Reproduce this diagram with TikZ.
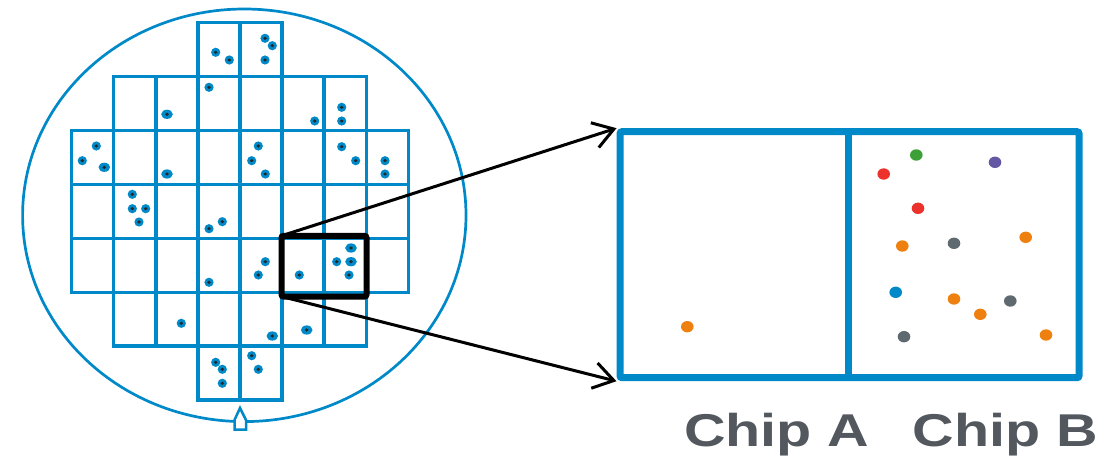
\documentclass[tikz,border=0pt]{standalone}
\usepackage{fontspec}
\setmainfont{Liberation Sans}
\usetikzlibrary{arrows.meta}
\definecolor{waferblue}{RGB}{0,137,201}
\definecolor{labelgray}{RGB}{83,88,95}
\definecolor{dorange}{RGB}{238,128,16}
\definecolor{dgreen}{RGB}{60,160,55}
\definecolor{dpurple}{RGB}{100,88,165}
\definecolor{dred}{RGB}{235,50,45}
\definecolor{dgray}{RGB}{95,105,112}
\begin{document}
\begin{tikzpicture}[x=1pt,y=-1pt,
  waferedge/.style={draw=waferblue,line width=2.7pt},
  cell/.style={draw=waferblue,line width=3.4pt},
  notch/.style={draw=waferblue,fill=white,line width=2.5pt},
  zoomframe/.style={draw=black,line width=6pt,rounded corners=2pt,inner sep=0pt},
  chipframe/.style={draw=waferblue,line width=7pt,rounded corners=2pt,inner sep=0pt},
  link/.style={draw=black,line width=3pt,-{Straight Barb[length=20pt,width=26pt]}},
  chiplabel/.style={anchor=base,text=labelgray,font=\bfseries\fontsize{46}{50}\selectfont}
]
\useasboundingbox (0,0) rectangle (1115,462);

% wafer outline
\draw[waferedge] (244.3,215.3) ellipse [x radius=221.7, y radius=206.3];

% die grid, row by row (first and last column index per row)
\foreach \j/\a/\b in {0/3/4,1/1/6,2/0/7,3/0/7,4/0/7,5/1/6,6/3/4}
  \foreach \i in {\a,...,\b}
    \draw[cell] ({71.7+42.08*\i},{22.7+53.9*\j}) rectangle ++(42.08,53.9);

% orientation notch
\draw[notch] (234.5,429.5) -- (246,429.5) -- (246,420) -- (240,408) -- (234.5,420) -- cycle;

% defects on the wafer
\foreach \x/\y/\r in {
  215.7/52.3/4.6, 229.3/60/4.6, 265/38.3/4.6, 272.3/45.7/4.6, 265/60/4.6,
  209/87.3/4.6, 167/114.3/5.8, 314.7/121/4.6, 341.7/107.3/4.6, 341.7/121/4.6,
  96.3/146/4.6, 82.3/160.7/4.6, 104.3/167.3/5.8, 167/174/5.8,
  258.3/146/4.6, 251.7/160.7/4.6, 265.3/174/4.6,
  341.7/146.7/4.6, 355.7/160.7/4.6, 385/160.7/4.6, 385/174/4.6,
  132.3/194.3/4.6, 132.3/208.7/4.6, 145.7/208.7/4.6, 139/222/4.6,
  222.3/221.7/4.6, 209/228.7/4.6,
  265.3/261.7/4.6, 258.3/275/4.6, 209/282.3/4.6, 299.3/275/4.6,
  351/248/5.8, 336.7/261.7/4.6, 351/261.7/5.8, 349/275/4.6,
  181.3/323.3/4.6, 272.3/336/5.8, 306.7/330/5.8,
  215.7/362.3/4.6, 222.3/369.3/4.6, 222.3/383.3/4.6, 251.7/355.7/4.6, 258.3/369.3/4.6}
{
  \fill[waferblue] (\x,\y) ellipse [x radius=\r, y radius=4.6];
  \fill[black!85] (\x,\y) ellipse [x radius=1.9, y radius=1.7];
}

% magnified pair of dies
\node[chipframe,minimum width=459pt,minimum height=246pt] (chips) at (849.5,254.7) {};
\draw[waferblue,line width=7pt] (848.3,131.7) -- (848.3,377.7);

% selection frame and zoom lines
\draw[link] (281.5,235.8) -- (chips.north west);
\draw[link] (281.5,296.5) -- (chips.south west);
\node[zoomframe,minimum width=85pt,minimum height=60.7pt] (zoom) at (324,266.2) {};

% defects inside the magnified dies
\foreach \x/\y/\c in {
  687.3/326.7/dorange,
  916.3/155/dgreen, 995/162.3/dpurple, 883.7/174/dred, 918/208.3/dred,
  902.3/246/dorange, 954/243.3/dgray, 1025.7/237.3/dorange,
  895.7/292.3/waferblue, 954/299/dorange, 1010.3/301/dgray,
  980.3/314.3/dorange, 904/336.7/dgray, 1046/335/dorange}
  \fill[\c] (\x,\y) ellipse [x radius=6.3, y radius=5.7];

% labels
\node[chiplabel] (chipA) at (776.7,446.7) {\scalebox{1.25}[1]{Chip A}};
\node[chiplabel] (chipB) at (1005.5,446.7) {\scalebox{1.25}[1]{Chip B}};
\end{tikzpicture}
\end{document}
